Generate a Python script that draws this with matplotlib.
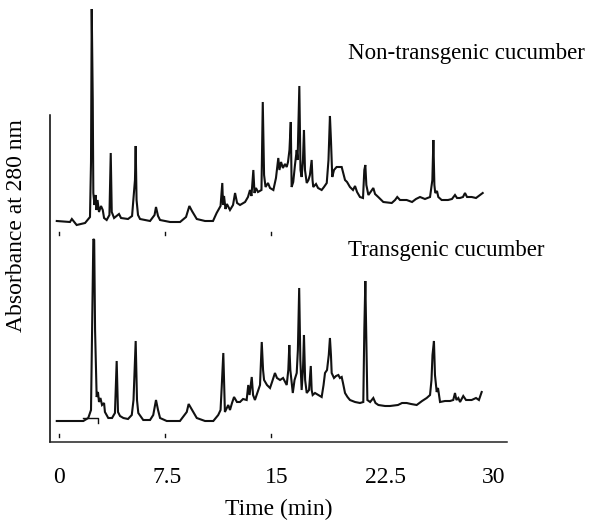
import matplotlib
matplotlib.use("Agg")
import matplotlib.pyplot as plt
import numpy as np

# ---------------- data ----------------
# retention time (min) and absorbance (a.u., relative to each trace's own baseline)
nontrans_time = [-0.14, 0.77, 0.90, 1.23, 1.81, 2.15, 2.22, 2.27, 2.34, 2.38, 2.46, 2.53, 2.60, 2.67,
                 2.77, 2.91, 3.03, 3.12, 3.30, 3.49, 3.58, 3.65, 3.81, 4.15, 4.29, 4.77, 5.05, 5.25,
                 5.30, 5.36, 5.46, 5.60, 6.29, 6.60, 6.70, 6.84, 6.98, 7.67, 8.36, 8.77, 9.00, 9.18,
                 9.51, 10.08, 10.63, 10.88, 11.15, 11.27, 11.32, 11.39, 11.49, 11.59, 11.80, 12.01,
                 12.15, 12.29, 12.49, 12.84, 13.04, 13.18, 13.28, 13.41, 13.49, 13.59, 13.73, 13.97,
                 14.06, 14.15, 14.25, 14.42, 14.56, 14.79, 14.97, 15.13, 15.21, 15.32, 15.45, 15.59,
                 15.71, 15.80, 15.90, 15.99, 16.05, 16.16, 16.28, 16.40, 16.46, 16.58, 16.66, 16.74,
                 16.83, 16.90, 16.97, 17.09, 17.21, 17.31, 17.43, 17.49, 17.54, 17.73, 17.87, 18.12,
                 18.28, 18.47, 18.59, 18.69, 18.76, 18.85, 18.97, 19.15, 19.50, 19.59, 19.73, 19.87,
                 20.07, 20.28, 20.42, 20.56, 20.76, 20.97, 21.06, 21.13, 21.20, 21.34, 21.49, 21.68,
                 21.80, 22.02, 22.37, 22.95, 23.18, 23.33, 23.52, 23.98, 24.35, 24.62, 24.90, 25.24,
                 25.59, 25.75, 25.82, 25.89, 25.95, 26.07, 26.16, 26.39, 26.83, 27.10, 27.31, 27.45,
                 27.65, 27.86, 28.00, 28.14, 28.46, 28.76, 29.03, 29.22]
nontrans_abs = [0.01, 0.00, 0.03, -0.03, -0.01, 0.05, 0.60, 2.13, 1.22, 0.29, 0.17, 0.27, 0.12, 0.22,
                0.10, 0.16, 0.12, 0.04, 0.02, 0.07, 0.69, 0.10, 0.04, 0.08, 0.04, 0.03, 0.06, 0.42,
                0.76, 0.22, 0.07, 0.03, 0.01, 0.07, 0.15, 0.06, 0.02, 0.00, 0.00, 0.05, 0.16, 0.11,
                0.03, 0.01, 0.01, 0.09, 0.16, 0.39, 0.17, 0.26, 0.13, 0.18, 0.12, 0.17,
                0.29, 0.19, 0.17, 0.20, 0.25, 0.32, 0.26, 0.52, 0.29, 0.34, 0.30, 0.32,
                1.20, 0.47, 0.35, 0.39, 0.34, 0.32, 0.44, 0.64, 0.52, 0.60, 0.54, 0.58,
                0.55, 0.60, 0.72, 1.00, 0.35, 0.40, 0.57, 0.72, 0.62, 1.36, 0.52, 0.45,
                0.62, 0.92, 0.52, 0.39, 0.42, 0.47, 0.62, 0.42, 0.35, 0.38, 0.34, 0.32,
                0.35, 0.39, 0.62, 1.06, 0.82, 0.45, 0.52, 0.55, 0.55, 0.50, 0.42, 0.40,
                0.35, 0.32, 0.36, 0.30, 0.25, 0.24, 0.52, 0.57, 0.37, 0.27, 0.30, 0.34,
                0.28, 0.25, 0.20, 0.19, 0.22, 0.25, 0.22, 0.22, 0.20, 0.23, 0.25, 0.23,
                0.25, 0.42, 0.82, 0.37, 0.29, 0.31, 0.25, 0.22, 0.22, 0.23, 0.27, 0.24,
                0.24, 0.25, 0.29, 0.25, 0.25, 0.24, 0.27, 0.29]

trans_time = [-0.14, 1.69, 2.03, 2.22, 2.32, 2.38, 2.44, 2.50, 2.61, 2.70, 2.77, 2.87, 2.98, 3.12,
              3.18, 3.41, 3.67, 3.87, 3.99, 4.08, 4.22, 4.45, 4.77, 5.03, 5.15, 5.30, 5.39, 5.48,
              5.82, 6.29, 6.51, 6.70, 6.84, 6.98, 7.44, 8.35, 8.82, 8.95, 9.11, 9.51, 10.08, 10.65,
              10.99, 11.15, 11.23, 11.34, 11.42, 11.45, 11.68, 11.80, 11.94, 12.08, 12.28, 12.49,
              12.70, 12.95, 13.06, 13.15, 13.30, 13.39, 13.52, 13.75, 13.87, 13.99, 14.08, 14.15,
              14.35, 14.56, 14.70, 14.90, 15.04, 15.25, 15.46, 15.71, 15.82, 15.89, 15.96, 16.13,
              16.25, 16.40, 16.48, 16.57, 16.65, 16.74, 16.83, 16.90, 16.98, 17.09, 17.25, 17.37,
              17.43, 17.50, 17.66, 17.89, 18.12, 18.25, 18.35, 18.49, 18.61, 18.69, 18.76, 18.81,
              18.97, 19.11, 19.27, 19.38, 19.50, 19.59, 19.73, 19.90, 20.07, 20.42, 20.76, 20.99,
              21.06, 21.13, 21.19, 21.27, 21.46, 21.68, 21.83, 22.03, 22.49, 22.83, 23.38, 23.66,
              23.98, 24.28, 24.67, 25.04, 25.36, 25.59, 25.69, 25.76, 25.86, 25.93, 26.05, 26.14,
              26.28, 26.62, 26.97, 27.19, 27.31, 27.41, 27.54, 27.66, 27.88, 28.07, 28.46, 28.76,
              28.96, 29.15]
trans_abs = [0.00, 0.00, 0.03, 0.11, 1.21, 1.82, 1.81, 0.91, 0.24, 0.29, 0.19, 0.23, 0.16, 0.18,
             0.09, 0.03, 0.03, 0.08, 0.60, 0.09, 0.05, 0.03, 0.02, 0.06, 0.21, 0.80, 0.21, 0.08,
             0.01, 0.01, 0.06, 0.21, 0.11, 0.03, 0.00, 0.00, 0.09, 0.17, 0.13, 0.03, 0.00, 0.00,
             0.06, 0.11, 0.34, 0.68, 0.26, 0.09, 0.16, 0.11, 0.18, 0.24, 0.19, 0.19,
             0.22, 0.21, 0.36, 0.26, 0.44, 0.26, 0.21, 0.31, 0.36, 0.79, 0.51, 0.41,
             0.36, 0.33, 0.39, 0.48, 0.43, 0.41, 0.43, 0.36, 0.51, 0.76, 0.51, 0.28,
             0.41, 0.48, 0.71, 1.33, 0.61, 0.31, 0.51, 0.86, 0.41, 0.28, 0.31, 0.55,
             0.31, 0.26, 0.28, 0.26, 0.24, 0.36, 0.48, 0.51, 0.66, 0.83, 0.66, 0.48,
             0.43, 0.45, 0.46, 0.43, 0.44, 0.38, 0.28, 0.24, 0.21, 0.19, 0.18, 0.19,
             0.91, 1.40, 0.91, 0.21, 0.19, 0.23, 0.18, 0.16, 0.15, 0.15, 0.16, 0.18,
             0.18, 0.17, 0.16, 0.20, 0.23, 0.26, 0.41, 0.66, 0.80, 0.46, 0.29, 0.33,
             0.19, 0.20, 0.20, 0.21, 0.28, 0.21, 0.23, 0.19, 0.25, 0.21, 0.21, 0.23,
             0.21, 0.29]

xtick_values = [0, 7.5, 15, 22.5, 30]
xtick_labels = ["0", "7.5", "15", "22.5", "30"]
trace_names = ["Non-transgenic cucumber", "Transgenic cucumber"]

# ---------------- layout ----------------
W, H = 595, 524
fig = plt.figure(figsize=(W / 100, H / 100), dpi=100)
plt.rcParams['font.family'] = ['Liberation Serif', 'DejaVu Serif']

ax_left, ax_right, ax_bottom, ax_top = 50, 507, 442, 0   # pixels
ax = fig.add_axes([ax_left / W, 1 - ax_bottom / H, (ax_right - ax_left) / W, (ax_bottom - ax_top) / H])

px_per_min = 14.507
t0_px = 58.8
ax.set_xlim((ax_left - t0_px) / px_per_min, (ax_right - t0_px) / px_per_min)
ax.set_ylim(0, (ax_bottom - ax_top) / 100.0)

top_offset = (442 - 222) / 100.0
bot_offset = (442 - 421) / 100.0

col = '#111111'
ax.plot(nontrans_time, np.array(nontrans_abs) + top_offset, color=col, lw=1.5, solid_joinstyle='miter')
ax.plot(trans_time, np.array(trans_abs) + bot_offset, color=col, lw=1.5, solid_joinstyle='miter')

# integration marker under first transgenic peak
ax.plot([1.69, 2.72, 2.72], [bot_offset + 0.03, bot_offset + 0.03, bot_offset - 0.02], color=col, lw=1.0)

# small run markers
for t in [0.0, 7.3, 14.6]:
    ax.plot([t, t], [top_offset - 0.10, top_offset - 0.13], color=col, lw=1.0)
    ax.plot([t, t], [0.05, 0.08], color=col, lw=1.0)

# spines
for s in ['top', 'right']:
    ax.spines[s].set_visible(False)
ax.spines['left'].set_bounds(0, (442 - 115) / 100.0)
ax.spines['left'].set_linewidth(1.1)
ax.spines['bottom'].set_linewidth(1.1)
ax.spines['bottom'].set_color('#222222')
ax.set_yticks([])
ax.set_xticks(xtick_values)
ax.set_xticklabels(xtick_labels, fontsize=17)
ax.tick_params(axis='x', length=0, pad=18)
ax.set_xlabel("Time (min)", fontsize=17, labelpad=8)

fig.text(17 / W, 1 - 226 / H, "Absorbance at 280 nm", fontsize=17, rotation=90,
         ha='center', va='center')

fig.text(348 / W, 1 - 53 / H, trace_names[0], fontsize=16.5, ha='left', va='center')
fig.text(348 / W, 1 - 251 / H, trace_names[1], fontsize=16.5, ha='left', va='center')

fig.savefig("out.png", dpi=100)
